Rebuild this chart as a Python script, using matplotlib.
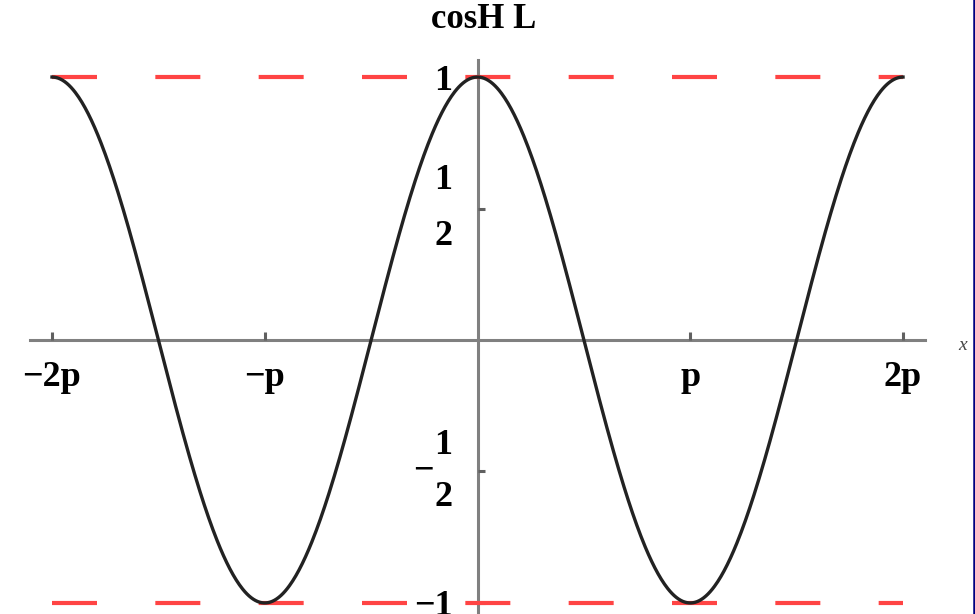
import numpy as np
import matplotlib.pyplot as plt
from matplotlib.lines import Line2D

# curve: cos(x) over two full periods
x_min, x_max = -2 * np.pi, 2 * np.pi
bounds = [1, -1]  # dashed guide lines

xtick_pos = [-2 * np.pi, -np.pi, np.pi, 2 * np.pi]
xtick_lab = ["\u22122p", "\u2212p", "p", "2p"]
ytick_pos = [-1, -0.5, 0.5, 1]
ytick_lab = ["\u22121", "1\n\u2212  \n2", "1\n2", "1"]

x = np.linspace(x_min, x_max, 800)
y = np.cos(x)

fig = plt.figure(figsize=(9.75, 6.14), dpi=100)
ax = fig.add_axes([0, 0, 1, 1])
ax.set_xlim(-7.051, 7.346)
ax.set_ylim(-1.042, 1.293)

for b in bounds:
    ax.plot([x_min, x_max], [b, b], color="#ff4444", lw=3.0,
            linestyle=(0, (10.8, 14.0)), solid_capstyle="butt", zorder=2)

ax.plot(x, y, color="#222222", lw=2.4, zorder=3)

# axes through the origin
for side in ["top", "right"]:
    ax.spines[side].set_visible(False)
ax.spines["left"].set_position(("data", 0))
ax.spines["bottom"].set_position(("data", 0))
ax.spines["bottom"].set_bounds(-6.608, 6.608)
ax.spines["left"].set_bounds(-1.042, 1.065)
for side in ["left", "bottom"]:
    ax.spines[side].set_color("#808080")
    ax.spines[side].set_linewidth(2.2)
    ax.spines[side].set_zorder(1)

font = dict(family="Liberation Serif", weight="bold", size=26)
ax.set_xticks(xtick_pos, xtick_lab, **font)
ax.set_yticks(ytick_pos, ytick_lab, **font)
# stacked fractions for the half ticks
for lab in ax.get_yticklabels():
    txt = lab.get_text()
    if "\n" in txt:
        lab.set_verticalalignment("center")
        lab.set_linespacing(1.9 if txt.count("\n") == 1 else 0.72)
ax.tick_params(axis="x", direction="in", length=6, width=2.2, color="#606060", pad=15)
ax.tick_params(axis="y", direction="in", length=5, width=2.2, color="#606060", pad=18)

ax.text(0.496, 0.968, "cosH L", transform=ax.transAxes, ha="center", va="center",
        family="Liberation Serif", weight="bold", size=25)
ax.text(0.987, 0.437, "x", transform=ax.transAxes, ha="center", va="center",
        family="Liberation Serif", style="italic", size=14, color="#444444")

fig.add_artist(Line2D([0.9985, 0.9985], [0, 1], transform=fig.transFigure,
                      color="#000080", lw=1.8))

fig.savefig("out.png", dpi=100)
